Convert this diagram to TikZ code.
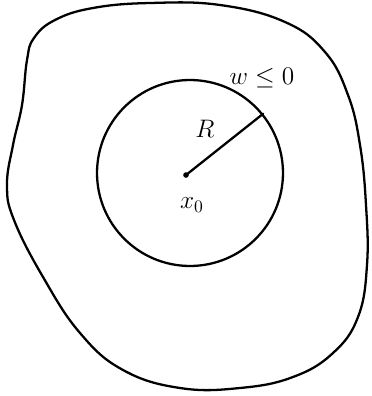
\documentclass[tikz,border=0pt]{standalone}
\usepackage{amsmath,amssymb}
\usetikzlibrary{positioning, calc}

\begin{document}
\begin{tikzpicture}[x=0.02cm, y=-0.02cm,
  curve/.style={draw, line width=1.3pt, line join=round},
  ball/.style={circle, draw, line width=1.3pt, minimum size=3.72cm, inner sep=0pt},
  lbl/.style={font=\Large, inner sep=1pt}]
\useasboundingbox (0,0) rectangle (372,396);
\draw[curve] plot[smooth cycle, tension=0.7] coordinates {
  (34,38) (27,60) (22,105) (13,145) (7,185) (14,220) (43,277)
  (80,333) (123,370) (180,388) (240,388) (293,377) (333,353) (358,317)
  (367,265) (366,205) (360,145) (348,95) (325,52) (285,22) (220,5)
  (150,3) (93,8) (55,20)};
\node[ball] (disc) at (190,173) {};
\coordinate (x0) at (186,175);
\fill (x0) circle (1.6pt);
\draw[line width=1.3pt, line cap=round] (x0) -- (disc.39);
\node[lbl] (rlabel) at (205,129) {$R$};
\node[lbl] (xlabel) at (192,205) {$x_0$};
\node[lbl] (wlabel) at (262,78) {$w\leq 0$};
\end{tikzpicture}
\end{document}
